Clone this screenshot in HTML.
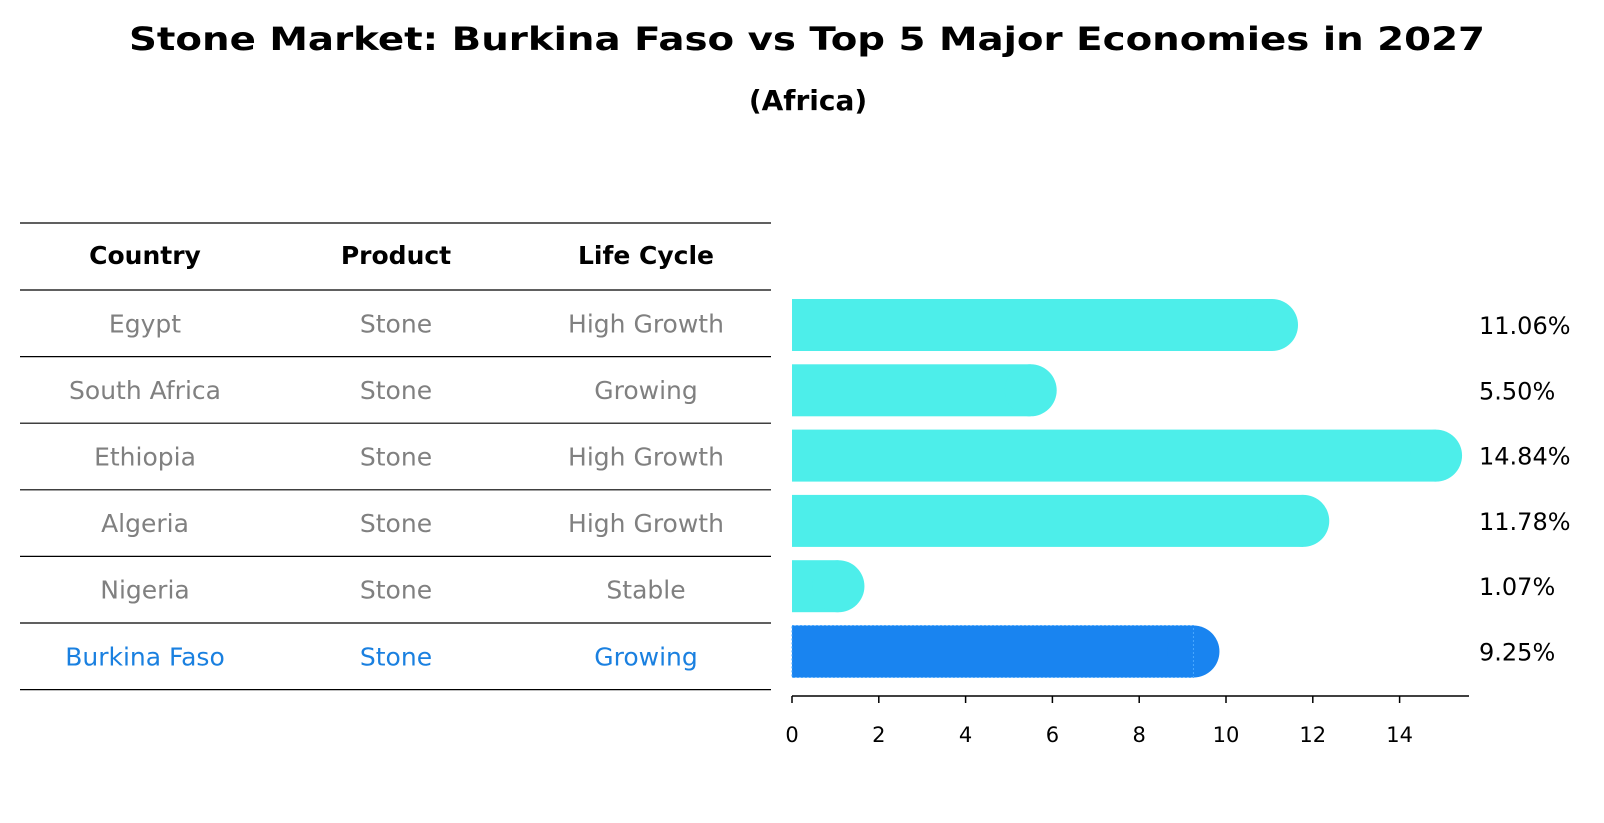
<!DOCTYPE html>
<html><head><meta charset="utf-8"><style>
body{margin:0;background:#fff}
svg{display:block;font-family:"DejaVu Sans","Liberation Sans",sans-serif}
</style></head><body>
<svg id="chart" width="1604" height="823" viewBox="0 0 1604 823">
<text x="807" y="50" text-anchor="middle" font-size="32" font-weight="bold" textLength="1356" lengthAdjust="spacingAndGlyphs">Stone Market: Burkina Faso vs Top 5 Major Economies in 2027</text>
<text x="808" y="110" text-anchor="middle" font-size="28" font-weight="bold">(Africa)</text>
<g id="table"></g>
<g id="bars"></g>
<g id="axis"></g>
</svg>
<script>
const countries=["Egypt","South Africa","Ethiopia","Algeria","Nigeria","Burkina Faso"];
const products=["Stone","Stone","Stone","Stone","Stone","Stone"];
const lifeCycles=["High Growth","Growing","High Growth","High Growth","Stable","Growing"];
const values=[11.06,5.50,14.84,11.78,1.07,9.25];
const tickValues=[0,2,4,6,8,10,12,14];
const highlight="Burkina Faso";

const NS="http://www.w3.org/2000/svg";
const x0=792, pxPerUnit=43.4, axisEnd=1469, axisY=696;
const rowTop=290, rowH=66.6, barH=52;
function xs(v){return x0+v*pxPerUnit;}
function rowCenter(i){return 325+i*65.3;}
function mk(tag,attrs,parent){const e=document.createElementNS(NS,tag);for(const k in attrs)e.setAttribute(k,attrs[k]);parent.appendChild(e);return e;}

const table=document.getElementById('table');
const colX=[145,396,646];
const headers=["Country","Product","Life Cycle"];
for(let i=0;i<=countries.length+1;i++){
  const y=i===0?223:rowTop+(i-1)*rowH;
  const l=mk('line',{x1:20,x2:771,y1:y,y2:y,stroke:'#000','stroke-width':1.2},table);
  
  
}
headers.forEach((h,j)=>{
  const t=mk('text',{x:colX[j],y:264,'text-anchor':'middle','font-size':25,'font-weight':'bold'},table);
  t.textContent=h;
  
  
});
countries.forEach((c,i)=>{
  const cy=rowTop+i*rowH+rowH/2+9;
  const col=c===highlight?'#1a80e0':'#808080';
  [c,products[i],lifeCycles[i]].forEach((txt,j)=>{
    const t=mk('text',{x:colX[j],y:cy,'text-anchor':'middle','font-size':25,fill:col},table);
    t.textContent=txt;
    
    
  });
});

const bars=document.getElementById('bars');
values.forEach((v,i)=>{
  const cy=rowCenter(i);
  const col=countries[i]===highlight?'#1984f0':'#4deeea';
  const g=mk('g',{},bars);
  
  
  mk('rect',{x:x0,y:cy-barH/2,width:Math.max(0,xs(v)-x0),height:barH,fill:col},g);
  mk('circle',{cx:xs(v),cy:cy,r:barH/2,fill:col},g);
  if(countries[i]===highlight){
    mk('rect',{x:x0,y:cy-barH/2,width:xs(v)-x0,height:barH,fill:'none',stroke:'#4aa8ff','stroke-width':1,'stroke-dasharray':'2,2'},g);
  }
  const t=mk('text',{x:1479,y:cy+9,'font-size':24,fill:'#000'},bars);
  t.textContent=v.toFixed(2)+'%';
  
  
});

const axis=document.getElementById('axis');
mk('line',{x1:x0,x2:axisEnd,y1:axisY,y2:axisY,stroke:'#000','stroke-width':1.5},axis);
tickValues.forEach(v=>{
  mk('line',{x1:xs(v),x2:xs(v),y1:axisY,y2:axisY+7,stroke:'#000','stroke-width':1.5},axis);
  const t=mk('text',{x:xs(v),y:742,'text-anchor':'middle','font-size':21},axis);
  t.textContent=v;
  
  
});
</script>
</body></html>
